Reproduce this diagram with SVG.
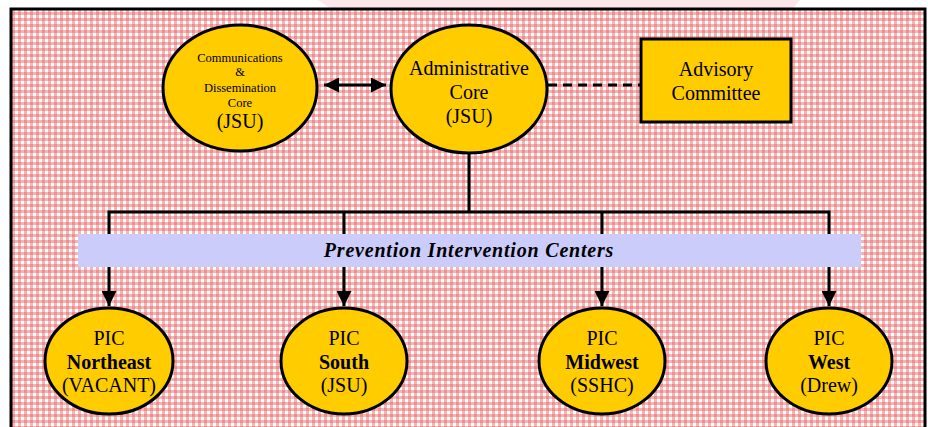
<svg xmlns="http://www.w3.org/2000/svg" width="928" height="427" viewBox="0 0 928 427">
<defs>
<pattern id="check" width="6" height="6" patternUnits="userSpaceOnUse">
<rect width="6" height="6" fill="#f7b4b4"/>
<rect x="0" y="0" width="3" height="3" fill="#ee8e8e"/>
<rect x="3" y="3" width="3" height="3" fill="#ffffff"/>
</pattern>
<marker id="ah" viewBox="0 0 10 10" refX="10" refY="5" markerWidth="5" markerHeight="5" orient="auto-start-reverse" markerUnits="strokeWidth">
<path d="M0,0 L10,5 L0,10 Z" fill="#000"/>
</marker>
<style>
.node{fill:#ffcc00;stroke:#000;stroke-width:3}
.t{font-family:"Liberation Serif","Times New Roman","DejaVu Serif",serif;fill:#000;text-anchor:middle;font-size:20px}
.s{font-size:12.5px}
.c{fill:none;stroke:#000;stroke-width:3}
</style>
</defs>
<rect width="928" height="427" fill="#ffffff"/>
<polygon points="318,0 800,0 793,8 330,8" fill="#fbe6ea"/>
<rect x="11" y="9" width="914" height="430" fill="url(#check)" stroke="#000" stroke-width="3"/>

<g id="connectors">
<line class="c" x1="324" y1="85" x2="386" y2="85" marker-start="url(#ah)" marker-end="url(#ah)"/>
<line class="c" x1="548" y1="85" x2="641" y2="85" stroke-dasharray="9,6"/>
<line class="c" x1="469" y1="153" x2="469" y2="212"/>
<polyline class="c" points="109,306 109,212 829,212 829,306" marker-start="url(#ah)" marker-end="url(#ah)"/>
<line class="c" x1="344" y1="212" x2="344" y2="306" marker-end="url(#ah)"/>
<line class="c" x1="602" y1="212" x2="602" y2="306" marker-end="url(#ah)"/>
</g>

<g id="pic-band">
<rect x="78" y="234" width="783" height="33" fill="#ccccfa"/>
<text class="t" x="469" y="257" font-size="19" font-weight="bold" font-style="italic" letter-spacing="0.8">Prevention Intervention Centers</text>
</g>

<g id="comm-core">
<ellipse class="node" cx="240" cy="88" rx="77" ry="63"/>
<text class="t s" x="240" y="62">Communications</text>
<text class="t s" x="240" y="76">&amp;</text>
<text class="t s" x="240" y="92">Dissemination</text>
<text class="t s" x="240" y="107">Core</text>
<text class="t" x="240" y="128" font-size="22">(JSU)</text>
</g>

<g id="admin-core">
<ellipse class="node" cx="469" cy="89" rx="78" ry="64"/>
<text class="t" x="469" y="75">Administrative</text>
<text class="t" x="469" y="99">Core</text>
<text class="t" x="469" y="123">(JSU)</text>
</g>

<g id="advisory">
<rect class="node" x="641" y="39" width="150" height="83"/>
<text class="t" x="716" y="76">Advisory</text>
<text class="t" x="716" y="100">Committee</text>
</g>

<g id="pic-northeast">
<ellipse class="node" cx="109" cy="361" rx="64" ry="53"/>
<text class="t" x="109" y="345">PIC</text>
<text class="t" x="109" y="369" font-weight="bold">Northeast</text>
<text class="t" x="109" y="392">(VACANT)</text>
</g>

<g id="pic-south">
<ellipse class="node" cx="344" cy="361" rx="63" ry="53"/>
<text class="t" x="344" y="345">PIC</text>
<text class="t" x="344" y="369" font-weight="bold">South</text>
<text class="t" x="344" y="392">(JSU)</text>
</g>

<g id="pic-midwest">
<ellipse class="node" cx="602" cy="361" rx="63" ry="53"/>
<text class="t" x="602" y="345">PIC</text>
<text class="t" x="602" y="369" font-weight="bold">Midwest</text>
<text class="t" x="602" y="392">(SSHC)</text>
</g>

<g id="pic-west">
<ellipse class="node" cx="829" cy="361" rx="63" ry="53"/>
<text class="t" x="829" y="345">PIC</text>
<text class="t" x="829" y="369" font-weight="bold">West</text>
<text class="t" x="829" y="392">(Drew)</text>
</g>
</svg>
